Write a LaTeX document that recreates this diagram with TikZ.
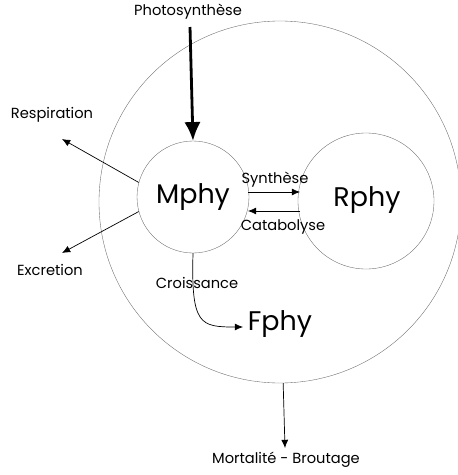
\documentclass[tikz,border=0pt]{standalone}
\usepackage{fontspec}
\setmainfont{Poppins}
\usetikzlibrary{arrows.meta}
\begin{document}
\begin{tikzpicture}[x=0.03cm,y=-0.03cm]
    \tikzset{
      ring/.style={draw, circle, line width=0.3pt, gray!80!black, inner sep=0pt},
      lab/.style={font=\fontsize{12.5}{14}\selectfont, inner sep=0pt},
      big/.style={font=\fontsize{23}{27}\selectfont, inner sep=0pt},
      flux/.style={-{Latex[length=7pt,width=6pt]}, line width=0.6pt}
    }
    \useasboundingbox (0,0) rectangle (458,475);
    \node[ring, minimum size=362*0.03cm] (Tot) at (280, 202) {};
    \node[ring, minimum size=112*0.03cm] (Mphy) at (193, 197) {};
    \node[ring, minimum size=136*0.03cm] (Rphy) at (366, 201) {};
    \node[big] (MphyT) at (193, 197) {Mphy};
    \node[big] (RphyT) at (367, 200) {Rphy};
    \node[big] (Fphy) at (280, 324) {Fphy};
    \node[lab] (Photo) at (188, 12) {Photosynthèse};
    \node[lab] (Resp) at (52, 115) {Respiration};
    \node[lab] (Excr) at (50, 270) {Excretion};
    \node[lab] (Synt) at (275, 180) {Synthèse};
    \node[lab] (Cata) at (283, 227) {Catabolyse};
    \node[lab] (Croi) at (197, 283) {Croissance};
    \node[lab] (Mort) at (286, 460) {Mortalité - Broutage};
    \coordinate (PhA) at (190, 27);
    \coordinate (ReA) at (62, 139);
    \coordinate (ExA) at (62, 253);
    \coordinate (SyA) at (248, 192);
    \coordinate (SyB) at (300, 192);
    \coordinate (CaA) at (300, 211);
    \coordinate (CaB) at (248, 211);
    \coordinate (MoA) at (285, 448);
    \coordinate (FpA) at (243, 327);
    \path (PhA) edge [-{Latex[length=16pt,width=14pt]}, line width=2.4pt] (Mphy.north);
    \path (Mphy.165) edge [flux] (ReA);
    \path (Mphy.195) edge [flux] (ExA);
    \path (SyA) edge [flux] (SyB);
    \path (CaA) edge [flux] (CaB);
    \path (Tot.-89) edge [flux] (MoA);
    \draw [flux] (Mphy.south) .. controls (191, 325) and (200, 327) .. (FpA);
\end{tikzpicture}
\end{document}
